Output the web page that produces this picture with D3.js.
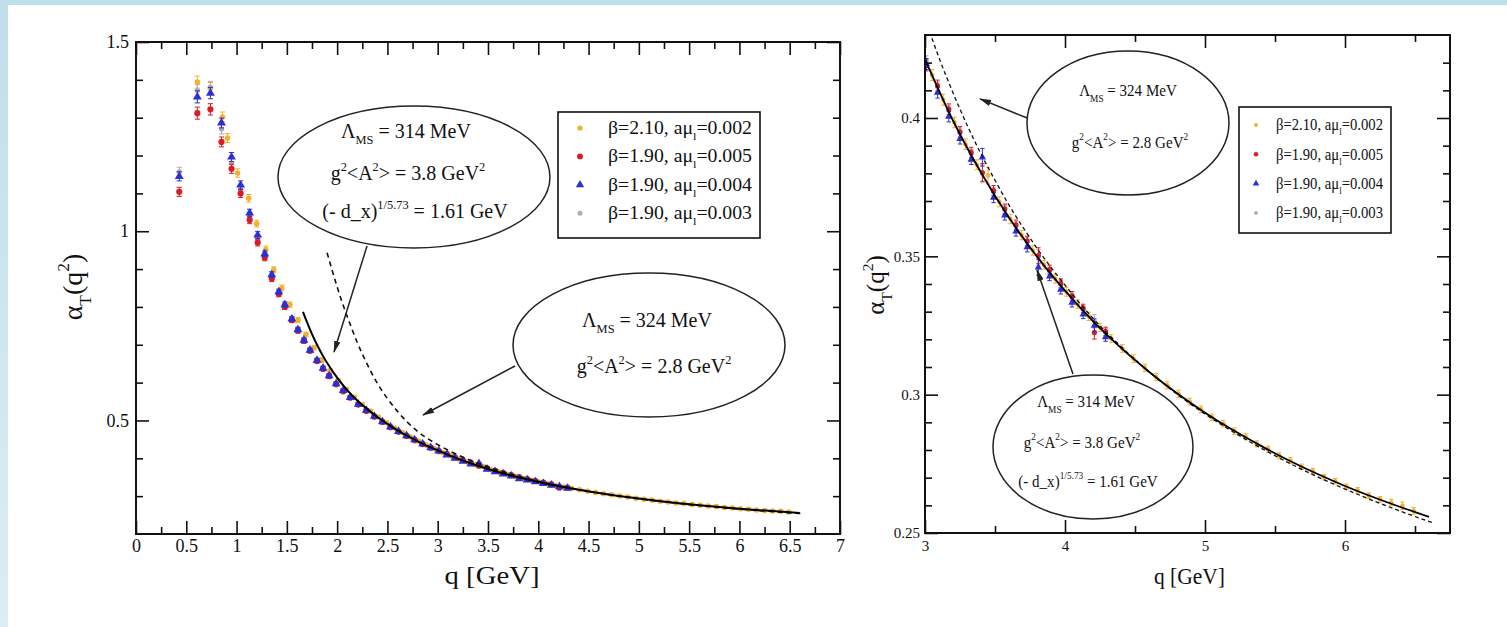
<!DOCTYPE html>
<html>
<head>
<meta charset="utf-8">
<script src="https://cdn.jsdelivr.net/npm/d3@7"></script>
<style>
  html, body { margin: 0; padding: 0; background: #fff; }
  svg { display: block; }
</style>
</head>
<body>
<svg id="fig" width="1507" height="627"></svg>
<script>
// ---------------------------------------------------------------------------
// Lattice data: alpha_T(q^2) versus q [GeV]
// ---------------------------------------------------------------------------

// beta = 2.10, a mu_l = 0.002
const q210 = [0.61, 0.74, 0.86, 0.91, 1.01, 1.12, 1.20, 1.29, 1.37, 1.45, 1.53, 1.61, 1.69, 1.77, 1.85, 1.93,
  2.01, 2.09, 2.17, 2.25, 2.33, 2.41, 2.49, 2.57, 2.65, 2.73, 2.81, 2.89, 2.97,
  3.05, 3.13, 3.21, 3.29, 3.37, 3.45, 3.53, 3.61, 3.69, 3.77, 3.85, 3.93,
  4.01, 4.09, 4.17, 4.25, 4.33, 4.41, 4.49, 4.57, 4.65, 4.73, 4.81, 4.89, 4.97,
  5.05, 5.13, 5.21, 5.29, 5.37, 5.45, 5.53, 5.61, 5.69, 5.77, 5.85, 5.93,
  6.01, 6.09, 6.17, 6.25, 6.33, 6.41, 6.49];
const alpha210 = [1.394, 1.378, 1.302, 1.246, 1.154, 1.087, 1.020, 0.952, 0.898, 0.850, 0.806, 0.765, 0.727, 0.692, 0.660, 0.631,
  0.605, 0.582, 0.561, 0.542, 0.525, 0.509, 0.494, 0.480, 0.468, 0.456, 0.445, 0.4345, 0.425,
  0.4155, 0.4066, 0.3984, 0.3905, 0.3831, 0.3792, 0.3697, 0.3635, 0.3577, 0.3521, 0.3469, 0.3419,
  0.3372, 0.3327, 0.3283, 0.3243, 0.3203, 0.3167, 0.3130, 0.3097, 0.3064, 0.3034, 0.3003, 0.2975, 0.2947,
  0.2918, 0.2895, 0.2868, 0.2848, 0.2822, 0.2803, 0.2779, 0.2762, 0.2739, 0.2723, 0.2702, 0.2687,
  0.2667, 0.2654, 0.2635, 0.2622, 0.2610, 0.2598, 0.2580];
const err210 = [0.016, 0.015, 0.013, 0.012, 0.011, 0.010, 0.009, 0.009, 0.008, 0.008, 0.007, 0.007, 0.006, 0.006, 0.006, 0.005,
  0.005, 0.005, 0.004, 0.004, 0.004, 0.004, 0.0035, 0.0035, 0.003, 0.003, 0.003, 0.003, 0.0025,
  0.0020, 0.0020, 0.0019, 0.0019, 0.0018, 0.0030, 0.0018, 0.0017, 0.0017, 0.0017, 0.0016, 0.0016,
  0.0016, 0.0015, 0.0015, 0.0015, 0.0014, 0.0014, 0.0014, 0.0013, 0.0013, 0.0013, 0.0013, 0.0012, 0.0012,
  0.0012, 0.0012, 0.0012, 0.0011, 0.0011, 0.0011, 0.0011, 0.0011, 0.0010, 0.0010, 0.0010, 0.0010,
  0.0010, 0.0010, 0.0010, 0.0010, 0.0012, 0.0014, 0.0012];

// beta = 1.90 ensembles share the same momenta
const q190 = [0.43, 0.61, 0.74, 0.85, 0.95, 1.04, 1.13, 1.21, 1.28, 1.35, 1.42, 1.48, 1.55, 1.61, 1.67, 1.73,
  1.80, 1.86, 1.92, 1.99, 2.06, 2.13, 2.21, 2.29, 2.37, 2.45, 2.53, 2.61, 2.69, 2.77, 2.85, 2.93,
  3.01, 3.09, 3.17, 3.25, 3.33, 3.41, 3.49, 3.57, 3.65, 3.73, 3.81, 3.89, 3.97, 4.05, 4.13, 4.21, 4.29];
const alpha190_005 = [1.104, 1.312, 1.322, 1.236, 1.165, 1.100, 1.030, 0.970, 0.930, 0.875, 0.834, 0.800, 0.765, 0.737, 0.710, 0.684,
  0.657, 0.636, 0.617, 0.596, 0.577, 0.560, 0.542, 0.525, 0.510, 0.496, 0.482, 0.470, 0.459, 0.448, 0.4375, 0.428,
  0.4190, 0.4117, 0.4032, 0.3950, 0.3876, 0.3803, 0.3738, 0.3672, 0.3614, 0.3556, 0.3503, 0.3452, 0.3402, 0.3357, 0.3312, 0.3225, 0.3229];
const alpha190_004 = [1.145, 1.355, 1.365, 1.286, 1.196, 1.122, 1.048, 0.990, 0.940, 0.885, 0.840, 0.806, 0.768, 0.740, 0.712, 0.686,
  0.659, 0.638, 0.618, 0.597, 0.579, 0.561, 0.543, 0.527, 0.511, 0.497, 0.483, 0.471, 0.460, 0.449, 0.438, 0.428,
  0.4195, 0.4092, 0.4005, 0.3925, 0.3850, 0.3858, 0.3712, 0.3648, 0.3590, 0.3533, 0.3460, 0.3428, 0.3380, 0.3333, 0.3290, 0.3250, 0.3208];
const alpha190_003 = [1.157, 1.372, 1.381, 1.270, 1.180, 1.110, 1.040, 0.975, 0.935, 0.882, 0.838, 0.805, 0.770, 0.741, 0.713, 0.688,
  0.660, 0.639, 0.619, 0.598, 0.580, 0.562, 0.544, 0.527, 0.512, 0.498, 0.484, 0.472, 0.461, 0.449, 0.439, 0.429,
  0.4205, 0.4110, 0.4025, 0.3945, 0.3869, 0.3798, 0.3731, 0.3667, 0.3607, 0.3551, 0.3497, 0.3446, 0.3397, 0.3351, 0.3307, 0.3265, 0.3225];
const err190 = [0.012, 0.016, 0.015, 0.013, 0.012, 0.011, 0.010, 0.009, 0.008, 0.008, 0.007, 0.007, 0.006, 0.006, 0.006, 0.005,
  0.005, 0.005, 0.005, 0.004, 0.004, 0.004, 0.004, 0.004, 0.0035, 0.0035, 0.0035, 0.003, 0.003, 0.003, 0.003, 0.003,
  0.0020, 0.0020, 0.0019, 0.0019, 0.0018, 0.0032, 0.0018, 0.0017, 0.0017, 0.0017, 0.0028, 0.0016, 0.0016, 0.0016, 0.0015, 0.0024, 0.0015];

// Fit: Lambda_MS = 314 MeV, g^2<A^2> = 3.8 GeV^2, (-d_x)^(1/5.73) = 1.61 GeV (solid)
const fitQ314 = [1.66, 1.70, 1.75, 1.80, 1.86, 1.93, 2.00, 2.10, 2.20, 2.30, 2.40, 2.50, 2.60, 2.70, 2.80, 2.90,
  3.00, 3.20, 3.40, 3.60, 3.80, 4.00, 4.20, 4.40, 4.60, 4.80, 5.00, 5.20, 5.40, 5.60, 5.80, 6.00, 6.20, 6.40, 6.60];
const fitAlpha314 = [0.787, 0.760, 0.728, 0.700, 0.670, 0.640, 0.613, 0.580, 0.553, 0.530, 0.509, 0.491, 0.474, 0.459, 0.445, 0.432,
  0.4211, 0.3991, 0.3803, 0.3640, 0.3499, 0.3376, 0.3266, 0.3169, 0.3083, 0.3005, 0.2935, 0.2872, 0.2815, 0.2762, 0.2714, 0.2670, 0.2630, 0.2593, 0.2558];

// Fit: Lambda_MS = 324 MeV, g^2<A^2> = 2.8 GeV^2 (dashed)
const fitQ324 = [1.90, 1.95, 2.00, 2.05, 2.10, 2.20, 2.30, 2.40, 2.50, 2.60, 2.70, 2.80, 2.90, 3.00, 3.10, 3.20, 3.30, 3.40,
  3.50, 3.60, 3.70, 3.80, 3.90, 4.00, 4.20, 4.40, 4.60, 4.80, 5.00, 5.20, 5.40, 5.60, 5.80, 6.00, 6.20, 6.40, 6.62];
const fitAlpha324 = [0.943, 0.897, 0.853, 0.812, 0.775, 0.706, 0.648, 0.598, 0.558, 0.524, 0.495, 0.471, 0.452, 0.4361, 0.4218, 0.4091, 0.3975, 0.3870,
  0.3775, 0.3685, 0.3605, 0.3529, 0.3460, 0.3396, 0.3276, 0.3174, 0.3083, 0.3002, 0.2930, 0.2866, 0.2807, 0.2753, 0.2704, 0.2659, 0.2617, 0.2578, 0.2538];

// Legend entries
const legendBetas = ["2.10", "1.90", "1.90", "1.90"];
const legendMasses = ["0.002", "0.005", "0.004", "0.003"];

// Tick labels
const fullXTicks = [0, 0.5, 1, 1.5, 2, 2.5, 3, 3.5, 4, 4.5, 5, 5.5, 6, 6.5, 7];
const fullXLabels = ["0", "0.5", "1", "1.5", "2", "2.5", "3", "3.5", "4", "4.5", "5", "5.5", "6", "6.5", "7"];
const fullYTicks = [0.5, 1, 1.5];
const fullYLabels = ["0.5", "1", "1.5"];
const zoomXTicks = [3, 4, 5, 6];
const zoomXLabels = ["3", "4", "5", "6"];
const zoomYTicks = [0.25, 0.3, 0.35, 0.4];
const zoomYLabels = ["0.25", "0.3", "0.35", "0.4"];

// ---------------------------------------------------------------------------
const SERIF = "'Liberation Serif', 'Times New Roman', Times, serif";
const seriesColors = ["#f3b12e", "#dc1c24", "#2f2fcf", "#b5abab"];
const seriesShapes = ["circle", "circle", "triangle", "circle"];
const seriesSizes = [24, 30, 34, 22];

const series = [
  { q: q210, alpha: alpha210, err: err210 },
  { q: q190, alpha: alpha190_005, err: err190 },
  { q: q190, alpha: alpha190_004, err: err190 },
  { q: q190, alpha: alpha190_003, err: err190 }
].map((s, i) => ({ ...s, color: seriesColors[i], shape: seriesShapes[i], size: seriesSizes[i] }));
const drawOrder = [0, 3, 1, 2];

const W = 1507, H = 627;
const svg = d3.select("#fig");
const defs = svg.append("defs");

// page backdrop: light-blue edge strip behind a white sheet
const grad = defs.append("linearGradient").attr("id", "edge")
  .attr("x1", 0).attr("y1", 0).attr("x2", 0).attr("y2", 1);
grad.append("stop").attr("offset", "0%").attr("stop-color", "#bfdfea");
grad.append("stop").attr("offset", "100%").attr("stop-color", "#dcedf3");
svg.append("rect").attr("width", W).attr("height", H).attr("fill", "url(#edge)");
svg.append("rect").attr("x", 8).attr("y", 5).attr("width", W - 8).attr("height", H - 5).attr("fill", "#fff");

defs.append("marker").attr("id", "arrowhead")
  .attr("viewBox", "0 0 12 8").attr("refX", 11).attr("refY", 4)
  .attr("markerWidth", 12).attr("markerHeight", 8)
  .attr("markerUnits", "userSpaceOnUse").attr("orient", "auto")
  .append("path").attr("d", "M0,0.8 L12,4 L0,7.2 Z").attr("fill", "#222");

// rich text: parts = [[string, ""|"sub"|"sup"], ...]
function rich(textSel, parts, size) {
  let shift = 0;
  parts.forEach(([t, k]) => {
    const target = k === "sub" ? size * 0.32 : k === "sup" ? -size * 0.45 : 0;
    textSel.append("tspan")
      .attr("dy", (target - shift).toFixed(2))
      .attr("font-size", k ? size * 0.62 : size)
      .text(t);
    shift = target;
  });
  return textSel;
}

const lambdaParts = v => [["\u039B", ""], ["MS", "sub"], [` = ${v} MeV`, ""]];
const condParts = v => [["g", ""], ["2", "sup"], ["<A", ""], ["2", "sup"], [`> = ${v} GeV`, ""], ["2", "sup"]];
const dxParts = v => [["(- d_x)", ""], ["1/5.73", "sup"], [` = ${v} GeV`, ""]];

function drawPanel(p) {
  const x = d3.scaleLinear().domain(p.xDomain).range([p.left, p.right]);
  const y = d3.scaleLinear().domain(p.yDomain).range([p.bottom, p.top]);

  defs.append("clipPath").attr("id", p.id + "-clip")
    .append("rect").attr("x", p.left).attr("y", p.top)
    .attr("width", p.right - p.left).attr("height", p.bottom - p.top);

  const g = svg.append("g");
  const plot = g.append("g").attr("clip-path", `url(#${p.id}-clip)`);

  // data points with error bars
  drawOrder.forEach(k => {
    const s = series[k];
    const pts = s.q.map((q, i) => ({ q, a: s.alpha[i], e: s.err[i] }));
    const sg = plot.append("g");
    sg.selectAll("path.bar").data(pts).join("path").attr("class", "bar")
      .attr("fill", "none").attr("stroke", s.color).attr("stroke-width", 1)
      .attr("d", d => {
        const cx = x(d.q), y0 = y(d.a - d.e), y1 = y(d.a + d.e), c = p.cap;
        return `M${cx},${y0}V${y1}M${cx - c},${y0}H${cx + c}M${cx - c},${y1}H${cx + c}`;
      });
    const type = s.shape === "triangle" ? d3.symbolTriangle : d3.symbolCircle;
    sg.selectAll("path.pt").data(pts).join("path").attr("class", "pt")
      .attr("transform", d => `translate(${x(d.q)},${y(d.a)})`)
      .attr("d", d3.symbol().type(type).size(s.size * p.markerScale))
      .attr("fill", s.color);
  });

  // fit curves
  const line = d3.line().x(d => x(d[0])).y(d => y(d[1])).curve(d3.curveMonotoneX);
  plot.append("path").datum(d3.zip(fitQ324, fitAlpha324)).attr("d", line)
    .attr("fill", "none").attr("stroke", "#111").attr("stroke-width", p.dashWidth)
    .attr("stroke-dasharray", p.dash);
  plot.append("path").datum(d3.zip(fitQ314, fitAlpha314)).attr("d", line)
    .attr("fill", "none").attr("stroke", "#000").attr("stroke-width", p.fitWidth);

  // axes: ticks on all four sides, pointing inward
  function axis(gen, scale, values, size, labels, transform, pad) {
    const a = gen(scale).tickValues(values).tickSize(-size).tickPadding(pad)
      .tickFormat(labels ? (d, i) => labels[i] : () => "");
    const ag = g.append("g").attr("transform", transform).call(a);
    ag.attr("font-family", null).attr("font-size", null);
    ag.select(".domain").remove();
    ag.selectAll(".tick line").attr("stroke", "#111").attr("stroke-width", 1.6);
    ag.selectAll(".tick text").attr("fill", "#111")
      .attr("font-family", SERIF).attr("font-size", p.tickFont);
    return ag;
  }
  axis(d3.axisBottom, x, p.xTicks, p.major, p.xLabels, `translate(0,${p.bottom})`, p.xPad);
  axis(d3.axisBottom, x, p.xMinor, p.minor, null, `translate(0,${p.bottom})`, 0);
  axis(d3.axisTop, x, p.xTicks, p.major, null, `translate(0,${p.top})`, 0);
  axis(d3.axisTop, x, p.xMinor, p.minor, null, `translate(0,${p.top})`, 0);
  axis(d3.axisLeft, y, p.yTicks, p.major, p.yLabels, `translate(${p.left},0)`, p.yPad);
  axis(d3.axisLeft, y, p.yMinor, p.minor, null, `translate(${p.left},0)`, 0);
  axis(d3.axisRight, y, p.yTicks, p.major, null, `translate(${p.right},0)`, 0);
  axis(d3.axisRight, y, p.yMinor, p.minor, null, `translate(${p.right},0)`, 0);

  g.append("rect").attr("x", p.left).attr("y", p.top)
    .attr("width", p.right - p.left).attr("height", p.bottom - p.top)
    .attr("fill", "none").attr("stroke", "#111").attr("stroke-width", 2);

  // axis titles
  rich(g.append("text").attr("x", (p.left + p.right) / 2 + p.xTitle.dx).attr("y", p.xTitle.y)
      .attr("text-anchor", "middle").attr("font-family", SERIF).attr("fill", "#111")
      .attr("textLength", p.xTitle.len).attr("lengthAdjust", "spacingAndGlyphs"),
    [["q [GeV]", ""]], p.xTitle.size);
  rich(g.append("text")
      .attr("transform", `translate(${p.yTitle.x},${p.yTitle.y}) rotate(-90)`)
      .attr("text-anchor", "middle").attr("font-family", SERIF).attr("fill", "#111"),
    [["\u03B1", ""], ["T", "sub"], ["(q", ""], ["2", "sup"], [")", ""]], p.yTitle.size);

  // legend
  const L = p.legend;
  const lg = g.append("g");
  lg.append("rect").attr("x", L.x).attr("y", L.y).attr("width", L.w).attr("height", L.h)
    .attr("fill", "#fff").attr("stroke", "#111").attr("stroke-width", 1.6);
  legendBetas.forEach((b, i) => {
    const s = series[i];
    const cy = L.y + L.first + i * L.step;
    const type = s.shape === "triangle" ? d3.symbolTriangle : d3.symbolCircle;
    lg.append("path").attr("transform", `translate(${L.x + L.markerDx},${cy})`)
      .attr("d", d3.symbol().type(type).size(s.size * L.markerScale)).attr("fill", s.color);
    rich(lg.append("text").attr("x", L.x + L.textDx).attr("y", cy + L.size * 0.33)
        .attr("font-family", SERIF).attr("fill", "#111")
        .attr("textLength", L.textLen).attr("lengthAdjust", "spacingAndGlyphs"),
      [[`\u03B2=${b}, a\u03BC`, ""], ["l", "sub"], [`=${legendMasses[i]}`, ""]], L.size);
  });

  // annotations: ellipses with fit parameters and arrows to the curves
  p.notes.forEach(n => {
    const cx = x(n.at[0]), cy = y(n.at[1]);
    g.append("ellipse").attr("cx", cx).attr("cy", cy).attr("rx", n.rx).attr("ry", n.ry)
      .attr("fill", "none").attr("stroke", "#222").attr("stroke-width", 1.5);
    n.lines.forEach((parts, i) => {
      const tg = g.append("g")
        .attr("transform", `translate(${cx + n.dx[i]},${cy + n.dy[i]}) scale(${n.squeeze},1)`);
      rich(tg.append("text").attr("x", 0).attr("y", 0)
          .attr("text-anchor", "middle").attr("font-family", SERIF).attr("fill", "#111"),
        parts, n.size);
    });
    g.append("line")
      .attr("x1", x(n.from[0])).attr("y1", y(n.from[1]))
      .attr("x2", x(n.to[0])).attr("y2", y(n.to[1]))
      .attr("stroke", "#222").attr("stroke-width", 1.5).attr("marker-end", "url(#arrowhead)");
  });
}

// full momentum range
drawPanel({
  id: "full", left: 136, right: 840, top: 42, bottom: 534,
  xDomain: [0, 7], yDomain: [0.2, 1.5],
  xTicks: fullXTicks, xLabels: fullXLabels, xMinor: d3.range(0.25, 7, 0.5),
  yTicks: fullYTicks, yLabels: fullYLabels, yMinor: [0.3, 0.4, 0.6, 0.7, 0.8, 0.9, 1.1, 1.2, 1.3, 1.4],
  major: 13, minor: 7, tickFont: 18, xPad: 5, yPad: 7,
  markerScale: 1, cap: 2.6, fitWidth: 2, dashWidth: 1.6, dash: "5,4",
  xTitle: { y: 584, size: 26, len: 95, dx: 4 },
  yTitle: { x: 82, y: 287, size: 28 },
  legend: { x: 558, y: 112, w: 202, h: 126, first: 16, step: 28.4, markerDx: 22, textDx: 50, textLen: 144, size: 18, markerScale: 0.9 },
  notes: [
    { at: [2.764, 1.1433], rx: 136, ry: 71, size: 20, squeeze: 1,
      lines: [lambdaParts(314), condParts("3.8"), dxParts("1.61")],
      dx: [-8, -6, 1], dy: [-39, 3, 41],
      from: [2.297, 0.961], to: [1.969, 0.681] },
    { at: [5.101, 0.6994], rx: 136, ry: 72, size: 20, squeeze: 1,
      lines: [lambdaParts(324), condParts("2.8")],
      dx: [-2, 5], dy: [-18, 28],
      from: [3.769, 0.644], to: [2.854, 0.5145] }
  ]
});

// large-momentum detail
drawPanel({
  id: "zoom", left: 925, right: 1450, top: 35, bottom: 533,
  xDomain: [3, 6.75], yDomain: [0.25, 0.43],
  xTicks: zoomXTicks, xLabels: zoomXLabels, xMinor: [3.5, 4.5, 5.5, 6.5],
  yTicks: zoomYTicks, yLabels: zoomYLabels,
  yMinor: [0.26, 0.27, 0.28, 0.29, 0.31, 0.32, 0.33, 0.34, 0.36, 0.37, 0.38, 0.39, 0.41, 0.42],
  major: 13, minor: 7, tickFont: 15, xPad: 7, yPad: 5,
  markerScale: 0.7, cap: 2.2, fitWidth: 1.8, dashWidth: 1.3, dash: "4,3",
  xTitle: { y: 584, size: 23, len: 71, dx: 2 },
  yTitle: { x: 884, y: 285, size: 25 },
  legend: { x: 1239, y: 107, w: 152, h: 126, first: 18, step: 29.3, markerDx: 17, textDx: 37, textLen: 107, size: 16, markerScale: 0.55 },
  notes: [
    { at: [4.45, 0.3982], rx: 101, ry: 72, size: 17.5, squeeze: 0.86,
      lines: [lambdaParts(324), condParts("2.8")],
      dx: [0, 2], dy: [-27, 25],
      from: [3.729, 0.4000], to: [3.393, 0.4069] },
    { at: [4.2, 0.2811], rx: 100, ry: 72, size: 17.5, squeeze: 0.86,
      lines: [lambdaParts(314), condParts("3.8"), dxParts("1.61")],
      dx: [-7, -11, -5], dy: [-40, 1, 40],
      from: [4.057, 0.3075], to: [3.8, 0.3451] }
  ]
});
</script>
</body>
</html>
